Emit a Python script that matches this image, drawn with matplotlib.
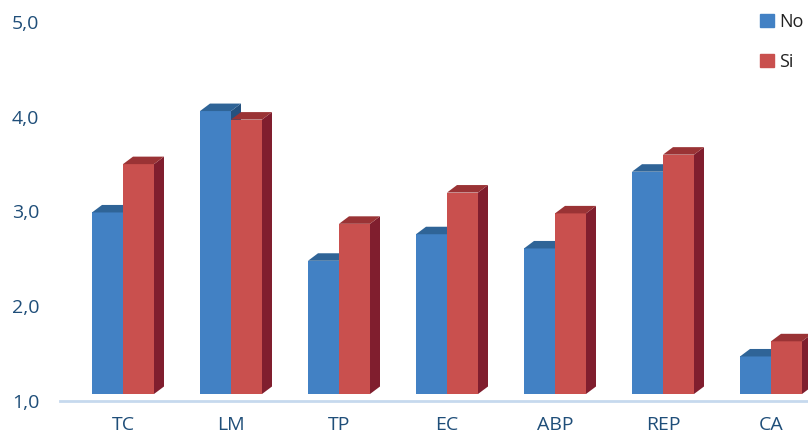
import matplotlib.pyplot as plt
import numpy as np
from matplotlib.patches import Polygon, Patch

categories = ['TC', 'LM', 'TP', 'EC', 'ABP', 'REP', 'CA']
no_vals = [2.99, 4.06, 2.48, 2.76, 2.61, 3.42, 1.47]
si_vals = [3.50, 3.97, 2.87, 3.20, 2.98, 3.60, 1.63]
yticks = [1.0, 2.0, 3.0, 4.0, 5.0]
ytick_labels = ['1,0', '2,0', '3,0', '4,0', '5,0']

# colours: front, top, side
blue = ('#4281C4', '#2F6497', '#24517F')
red = ('#C9504E', '#9A3335', '#801E2E')

plt.rcParams['font.family'] = ['Open Sans', 'DejaVu Sans']

W, H = 808, 437
fig = plt.figure(figsize=(W / 100, H / 100), dpi=100)
left_px, right_px, base_px, top_px = 60, 808, 401, 22
ax = fig.add_axes([left_px / W, (H - base_px) / H,
                   (right_px - left_px) / W, (base_px - top_px) / H])

px_x = 108.0           # pixels per category
px_y = (base_px - top_px) / 4.0
ax.set_xlim(-63 / px_x, (right_px - left_px - 63) / px_x)
ax.set_ylim(1.0, 5.0)

x = np.arange(len(categories))
w = 31 / px_x
dx = 10 / px_x
dy = 7.5 / px_y
bottom = 1.0 + 7 / px_y


def bar3d(xs, vals, cols):
    for xi, v in zip(xs, vals):
        ax.bar(xi, v - bottom, bottom=bottom, width=w, color=cols[0],
               align='edge', zorder=3, clip_on=False)
        x0, x1 = xi, xi + w
        top = Polygon([(x0, v), (x1, v), (x1 + dx, v + dy), (x0 + dx, v + dy)],
                      closed=True, facecolor=cols[1], edgecolor='none',
                      zorder=3, clip_on=False)
        side = Polygon([(x1, bottom), (x1 + dx, bottom + dy), (x1 + dx, v + dy), (x1, v)],
                       closed=True, facecolor=cols[2], edgecolor='none',
                       zorder=2, clip_on=False)
        ax.add_patch(top)
        ax.add_patch(side)


bar3d(x - w, no_vals, blue)
bar3d(x, si_vals, red)

ax.axhline(1.0, color='#C6D9EE', linewidth=2, zorder=1, clip_on=False)

for s in ax.spines.values():
    s.set_visible(False)
ax.set_yticks(yticks)
ax.set_yticklabels(ytick_labels, color='#1F4E79', fontsize=14)
ax.tick_params(axis='y', length=0, pad=15)
ax.set_xticks(x)
ax.set_xticklabels(categories, color='#1F4E79', fontsize=14)
ax.tick_params(axis='x', length=0, pad=11)

handles = [Patch(color=blue[0], label='No'), Patch(color=red[0], label='Si')]
fig.legend(handles=handles, loc='upper left', bbox_to_anchor=(751 / W, 1 - 4 / H),
           frameon=False, fontsize=13, handlelength=0.75, handleheight=0.75,
           handletextpad=0.3, labelspacing=1.2, borderpad=0, labelcolor='#222222')

fig.savefig('out.png', dpi=100)
